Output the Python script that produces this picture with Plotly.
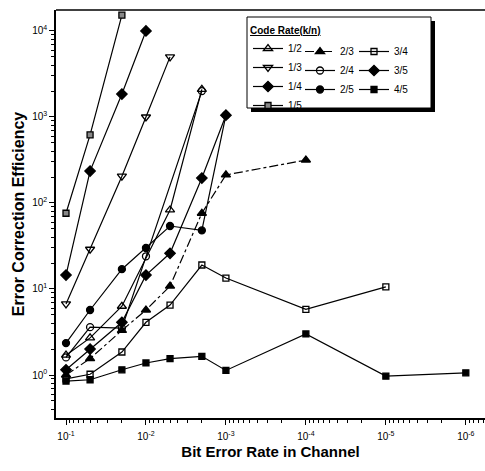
import plotly.graph_objects as go

# ---- data ----
r12_x = [1e-1, 5e-2, 2e-2, 5e-3, 2e-3]
r12_y = [1.7, 2.7, 6.3, 83, 2100]

r13_x = [1e-1, 5e-2, 2e-2, 1e-2, 5e-3]
r13_y = [6.7, 29, 205, 1000, 5000]

r14_x = [1e-1, 5e-2, 2e-2, 1e-2]
r14_y = [14.5, 235, 1850, 10000]

r15_x = [1e-1, 5e-2, 2e-2]
r15_y = [76, 620, 15300]

r23_x = [1e-1, 5e-2, 2e-2, 1e-2, 5e-3, 2e-3, 1e-3, 1e-4]
r23_y = [1.0, 1.55, 3.3, 5.7, 10.8, 76, 212, 316]

r24_x = [1e-1, 5e-2, 2e-2, 1e-2, 2e-3]
r24_y = [1.6, 3.6, 3.5, 24, 2000]

r25_x = [1e-1, 5e-2, 2e-2, 1e-2, 5e-3, 2e-3, 1e-3]
r25_y = [2.35, 5.7, 17, 30, 54, 48, 1050]

r34_x = [1e-1, 5e-2, 2e-2, 1e-2, 5e-3, 2e-3, 1e-3, 1e-4, 1e-5]
r34_y = [0.9, 1.02, 1.85, 4.1, 6.5, 19, 13.4, 5.8, 10.6]

r35_x = [1e-1, 5e-2, 2e-2, 1e-2, 5e-3, 2e-3, 1e-3]
r35_y = [1.15, 2.0, 4.1, 14.5, 26, 195, 1050]

r45_x = [1e-1, 5e-2, 2e-2, 1e-2, 5e-3, 2e-3, 1e-3, 1e-4, 1e-5, 1e-6]
r45_y = [0.85, 0.88, 1.15, 1.38, 1.55, 1.65, 1.13, 3.0, 0.97, 1.06]

x_tickvals = [1e-1, 1e-2, 1e-3, 1e-4, 1e-5, 1e-6]
x_ticktext = ["10<sup>-1</sup>", "10<sup>-2</sup>", "10<sup>-3</sup>",
              "10<sup>-4</sup>", "10<sup>-5</sup>", "10<sup>-6</sup>"]
y_tickvals = [1, 10, 100, 1000, 10000]
y_ticktext = ["10<sup>0</sup>", "10<sup>1</sup>", "10<sup>2</sup>",
              "10<sup>3</sup>", "10<sup>4</sup>"]

FONT = "Liberation Sans, Arial, sans-serif"

series = [
    # name, x, y, symbol, size, dash, legend
    ("1/2", r12_x, r12_y, "triangle-up-open", 8, "solid", "legend"),
    ("1/3", r13_x, r13_y, "triangle-down-open", 8, "solid", "legend"),
    ("1/4", r14_x, r14_y, "diamond", 8, "solid", "legend"),
    ("1/5", r15_x, r15_y, "square", 6, "solid", "legend"),
    ("2/3", r23_x, r23_y, "triangle-up", 8, "dashdot", "legend2"),
    ("2/4", r24_x, r24_y, "circle-open", 7, "solid", "legend2"),
    ("2/5", r25_x, r25_y, "circle", 7, "solid", "legend2"),
    ("3/4", r34_x, r34_y, "square-open", 6, "solid", "legend3"),
    ("3/5", r35_x, r35_y, "diamond", 8, "solid", "legend3"),
    ("4/5", r45_x, r45_y, "square", 6, "solid", "legend3"),
]

# minor tick positions (2..9 within each decade)
x_minor = [m * 10.0 ** e for e in range(-7, 0) for m in range(2, 10)]
y_minor = [m * 10.0 ** e for e in range(-1, 5) for m in range(2, 10)]

fig = go.Figure()
for name, xs, ys, sym, sz, dash, lg in series:
    fill = "#888888" if name == "1/5" else "black"
    fig.add_trace(go.Scatter(
        x=xs, y=ys, mode="lines+markers", name=name, legend=lg,
        line=dict(color="black", width=1.2, dash=dash),
        marker=dict(symbol=sym, size=sz, color=fill,
                    line=dict(color="black", width=1.3)),
    ))

W, H = 485, 471
L, R, T, B = 56, 0, 10, 53
pw, ph = W - L - R, H - T - B


def px(xp):
    return (xp - L) / pw


def py(yp):
    return (H - B - yp) / ph


leg_common = dict(bgcolor="rgba(0,0,0,0)", borderwidth=0,
                  font=dict(family=FONT, size=10, color="black"),
                  xanchor="left", yanchor="top", tracegroupgap=0,
                  itemwidth=30)

fig.update_layout(
    width=W, height=H,
    margin=dict(l=L, r=R, t=T, b=B),
    paper_bgcolor="white", plot_bgcolor="white",
    font=dict(family=FONT, size=10, color="black"),
    xaxis=dict(
        type="log", range=[-0.875, -6.24], showgrid=False, zeroline=False,
        showline=True, linecolor="black", linewidth=1.5, mirror=False,
        ticks="outside", ticklen=5, tickcolor="black", tickwidth=1.2,
        tickvals=x_tickvals, ticktext=x_ticktext,
        tickfont=dict(family=FONT, size=10), ticklabelstandoff=3,
        minor=dict(tickmode="array", tickvals=x_minor, ticks="outside",
                   ticklen=3, tickcolor="black", showgrid=False),
        title=dict(text="<b>Bit Error Rate in Channel</b>",
                   font=dict(family=FONT, size=15), standoff=6),
    ),
    yaxis=dict(
        type="log", range=[-0.5, 4.244], showgrid=False, zeroline=False,
        showline=True, linecolor="black", linewidth=1.5, mirror=False,
        ticks="outside", ticklen=5, tickcolor="black", tickwidth=1.2,
        tickvals=y_tickvals, ticktext=y_ticktext,
        tickfont=dict(family=FONT, size=10),
        minor=dict(tickmode="array", tickvals=y_minor, ticks="outside",
                   ticklen=3, tickcolor="black", showgrid=False),
        title=dict(text="<b>Error Correction Efficiency</b>",
                   font=dict(family=FONT, size=16), standoff=4),
    ),
    legend=dict(x=px(248), y=py(21),
                title=dict(text="<u><b>Code Rate(k/n)</b></u>",
                           font=dict(family=FONT, size=10)),
                **leg_common),
    legend2=dict(x=px(300), y=py(37), **leg_common),
    legend3=dict(x=px(354), y=py(37), **leg_common),
    showlegend=True,
)

# top frame line and legend box with shadow
fig.add_shape(type="line", xref="paper", yref="paper", x0=0, x1=1, y0=1, y1=1,
              line=dict(color="black", width=1.5))
fig.add_shape(type="rect", xref="paper", yref="paper",
              x0=px(251), x1=px(435), y0=py(112), y1=py(21),
              line=dict(width=0), fillcolor="black", layer="above")
fig.add_shape(type="rect", xref="paper", yref="paper",
              x0=px(247), x1=px(431), y0=py(108), y1=py(17),
              line=dict(color="black", width=1), fillcolor="white", layer="above")

fig.write_html("out.html")
